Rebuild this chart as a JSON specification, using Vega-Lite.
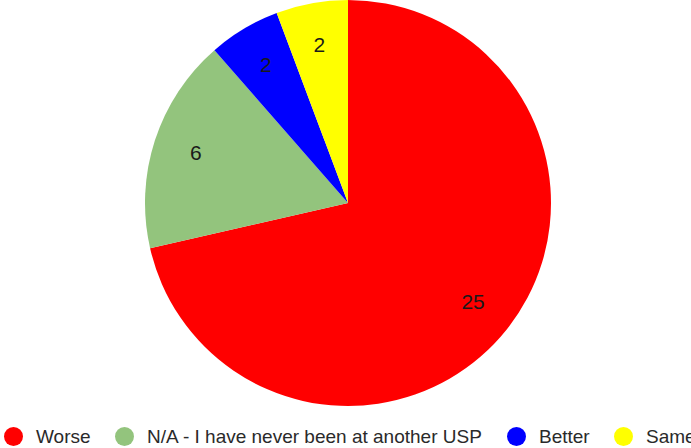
{
  "$schema": "https://vega.github.io/schema/vega-lite/v6.json",
  "width": 690,
  "height": 406,
  "padding": {"left": 3, "top": 0, "right": 0, "bottom": 42},
  "autosize": {"type": "none"},
  "background": "white",
  "data": {
    "values": [
      {"label": "Worse", "count": 25, "idx": 1},
      {"label": "N/A - I have never been at another USP", "count": 6, "idx": 2},
      {"label": "Better", "count": 2, "idx": 3},
      {"label": "Same", "count": 2, "idx": 4}
    ]
  },
  "encoding": {
    "theta": {"field": "count", "type": "quantitative", "stack": true},
    "order": {"field": "idx", "type": "quantitative"}
  },
  "layer": [
    {
      "mark": {"type": "arc", "outerRadius": 203, "strokeWidth": 0},
      "encoding": {
        "color": {
          "field": "label",
          "type": "nominal",
          "sort": ["Worse", "N/A - I have never been at another USP", "Better", "Same"],
          "scale": {
            "domain": ["Worse", "N/A - I have never been at another USP", "Better", "Same"],
            "range": ["#ff0000", "#93c47d", "#0000ff", "#ffff00"]
          },
          "legend": {
            "orient": "none",
            "legendX": 1,
            "legendY": 427,
            "direction": "horizontal",
            "gridAlign": "none",
            "title": null,
            "symbolType": "circle",
            "symbolSize": 361,
            "symbolStrokeWidth": 0,
            "symbolOpacity": 1,
            "labelFont": "Liberation Sans",
            "labelFontSize": 19,
            "labelColor": "#2a2a2a",
            "labelOffset": 13,
            "labelLimit": 500,
            "columnPadding": 24
          }
        }
      }
    },
    {
      "mark": {"type": "text", "radius": 160, "font": "Liberation Sans", "fontSize": 21, "baseline": "middle", "align": "center"},
      "encoding": {
        "text": {"field": "count", "type": "quantitative"},
        "detail": {"field": "label", "type": "nominal"},
        "color": {"value": "#1a1a1a"}
      }
    }
  ],
  "config": {"view": {"stroke": null}}
}
